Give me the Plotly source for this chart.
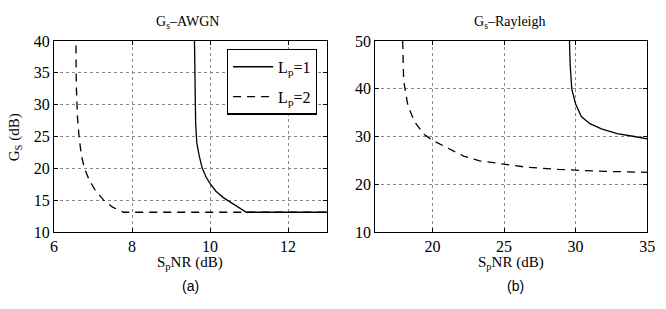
import plotly.graph_objects as go

# Left panel: Gs - AWGN
awgn_lp1_x = [9.60, 9.61, 9.62, 9.63, 9.66, 9.72, 9.80, 9.90, 10.0, 10.15, 10.34, 10.63, 10.93, 13.0]
awgn_lp1_y = [40.0, 32.0, 29.0, 27.0, 24.0, 22.0, 20.0, 18.6, 17.6, 16.4, 15.4, 14.2, 13.1, 13.1]
awgn_lp2_x = [6.56, 6.57, 6.60, 6.64, 6.70, 6.78, 6.90, 7.05, 7.27, 7.50, 7.78, 13.0]
awgn_lp2_y = [39.3, 33.0, 28.0, 25.0, 22.0, 20.0, 18.2, 16.6, 15.0, 13.9, 13.1, 13.1]

# Right panel: Gs - Rayleigh
ray_lp1_x = [29.57, 29.62, 29.73, 30.0, 30.4, 31.0, 31.8, 32.9, 34.1, 35.0]
ray_lp1_y = [50.0, 45.0, 40.0, 36.8, 34.2, 32.7, 31.6, 30.6, 30.0, 29.5]
ray_lp2_x = [17.92, 17.95, 17.99, 18.1, 18.29, 18.75, 19.39, 20.0, 21.03, 22.18, 23.3, 25.08, 26.5, 28.8, 30.2, 32.0, 35.0]
ray_lp2_y = [50.0, 45.0, 41.6, 39.7, 36.4, 33.1, 30.5, 29.2, 27.6, 25.9, 24.9, 24.1, 23.6, 23.1, 22.9, 22.7, 22.5]

legend_names = ["L<sub>p</sub>=1", "L<sub>p</sub>=2"]
titles = ["G<sub>s</sub>\u2013AWGN", "G<sub>s</sub>\u2013Rayleigh"]
xlabel = "S<sub>p</sub>NR (dB)"
ylabel = "G<sub>S</sub> (dB)"
panel_tags = ["(a)", "(b)"]

W, H = 666, 309
SERIF = "Liberation Serif"
SANS = "Liberation Sans"

fig = go.Figure()
fig.add_trace(go.Scatter(x=awgn_lp1_x, y=awgn_lp1_y, mode="lines", name=legend_names[0], legendgroup="a",
                         line=dict(color="black", width=1.3), xaxis="x", yaxis="y"))
fig.add_trace(go.Scatter(x=awgn_lp2_x, y=awgn_lp2_y, mode="lines", name=legend_names[1], legendgroup="b",
                         line=dict(color="black", width=1.3, dash="8px,6px"), xaxis="x", yaxis="y"))
fig.add_trace(go.Scatter(x=ray_lp1_x, y=ray_lp1_y, mode="lines", showlegend=False,
                         line=dict(color="black", width=1.3), xaxis="x2", yaxis="y2"))
fig.add_trace(go.Scatter(x=ray_lp2_x, y=ray_lp2_y, mode="lines", showlegend=False,
                         line=dict(color="black", width=1.3, dash="8px,6px"), xaxis="x2", yaxis="y2"))

ax_common = dict(showline=True, linecolor="black", linewidth=1.2, mirror="allticks",
                 ticks="inside", ticklen=4, tickcolor="black",
                 showgrid=True, gridcolor="#888888", griddash="dot", gridwidth=1,
                 zeroline=False, tickfont=dict(family=SERIF, size=16, color="black"))

ydom = [1 - 237 / H, 1 - 35 / H]
fig.update_layout(
    width=W, height=H, margin=dict(l=0, r=0, t=0, b=0),
    paper_bgcolor="white", plot_bgcolor="white",
    xaxis=dict(domain=[51 / W, 329 / W], range=[6, 13], tickvals=[6, 8, 10, 12], anchor="y", **ax_common),
    yaxis=dict(domain=ydom, range=[10, 40], tickvals=[10, 15, 20, 25, 30, 35, 40], anchor="x", **ax_common),
    xaxis2=dict(domain=[378 / W, 655 / W], range=[16, 35], tickvals=[20, 25, 30, 35], anchor="y2", **ax_common),
    yaxis2=dict(domain=ydom, range=[10, 50], tickvals=[10, 20, 30, 40, 50], anchor="x2", **ax_common),
    legend=dict(x=227 / W, y=1 - 43 / H, xanchor="left", yanchor="top",
                bordercolor="black", borderwidth=1.2, bgcolor="white", itemwidth=40,
                font=dict(family=SERIF, size=16, color="black"), tracegroupgap=6),
    showlegend=True,
)

ann = []
for cx, t in zip([187, 515], titles):
    ann.append(dict(text=t, x=cx / W, y=1 - 15 / H, xref="paper", yref="paper",
                    xanchor="center", yanchor="middle", showarrow=False,
                    font=dict(family=SERIF, size=14, color="black")))
for cx in [189, 516]:
    ann.append(dict(text=xlabel, x=cx / W, y=1 - 270 / H, xref="paper", yref="paper",
                    xanchor="center", yanchor="middle", showarrow=False,
                    font=dict(family=SERIF, size=15, color="black")))
for cx, t in zip([190, 521], panel_tags):
    ann.append(dict(text=t, x=cx / W, y=1 - 294 / H, xref="paper", yref="paper",
                    xanchor="center", yanchor="middle", showarrow=False,
                    font=dict(family=SANS, size=14, color="black")))
ann.append(dict(text=ylabel, x=12 / W, y=1 - 137 / H, xref="paper", yref="paper",
                xanchor="center", yanchor="middle", showarrow=False, textangle=-90,
                font=dict(family=SERIF, size=15, color="black")))
fig.update_layout(annotations=ann)

fig.write_html("out.html")
